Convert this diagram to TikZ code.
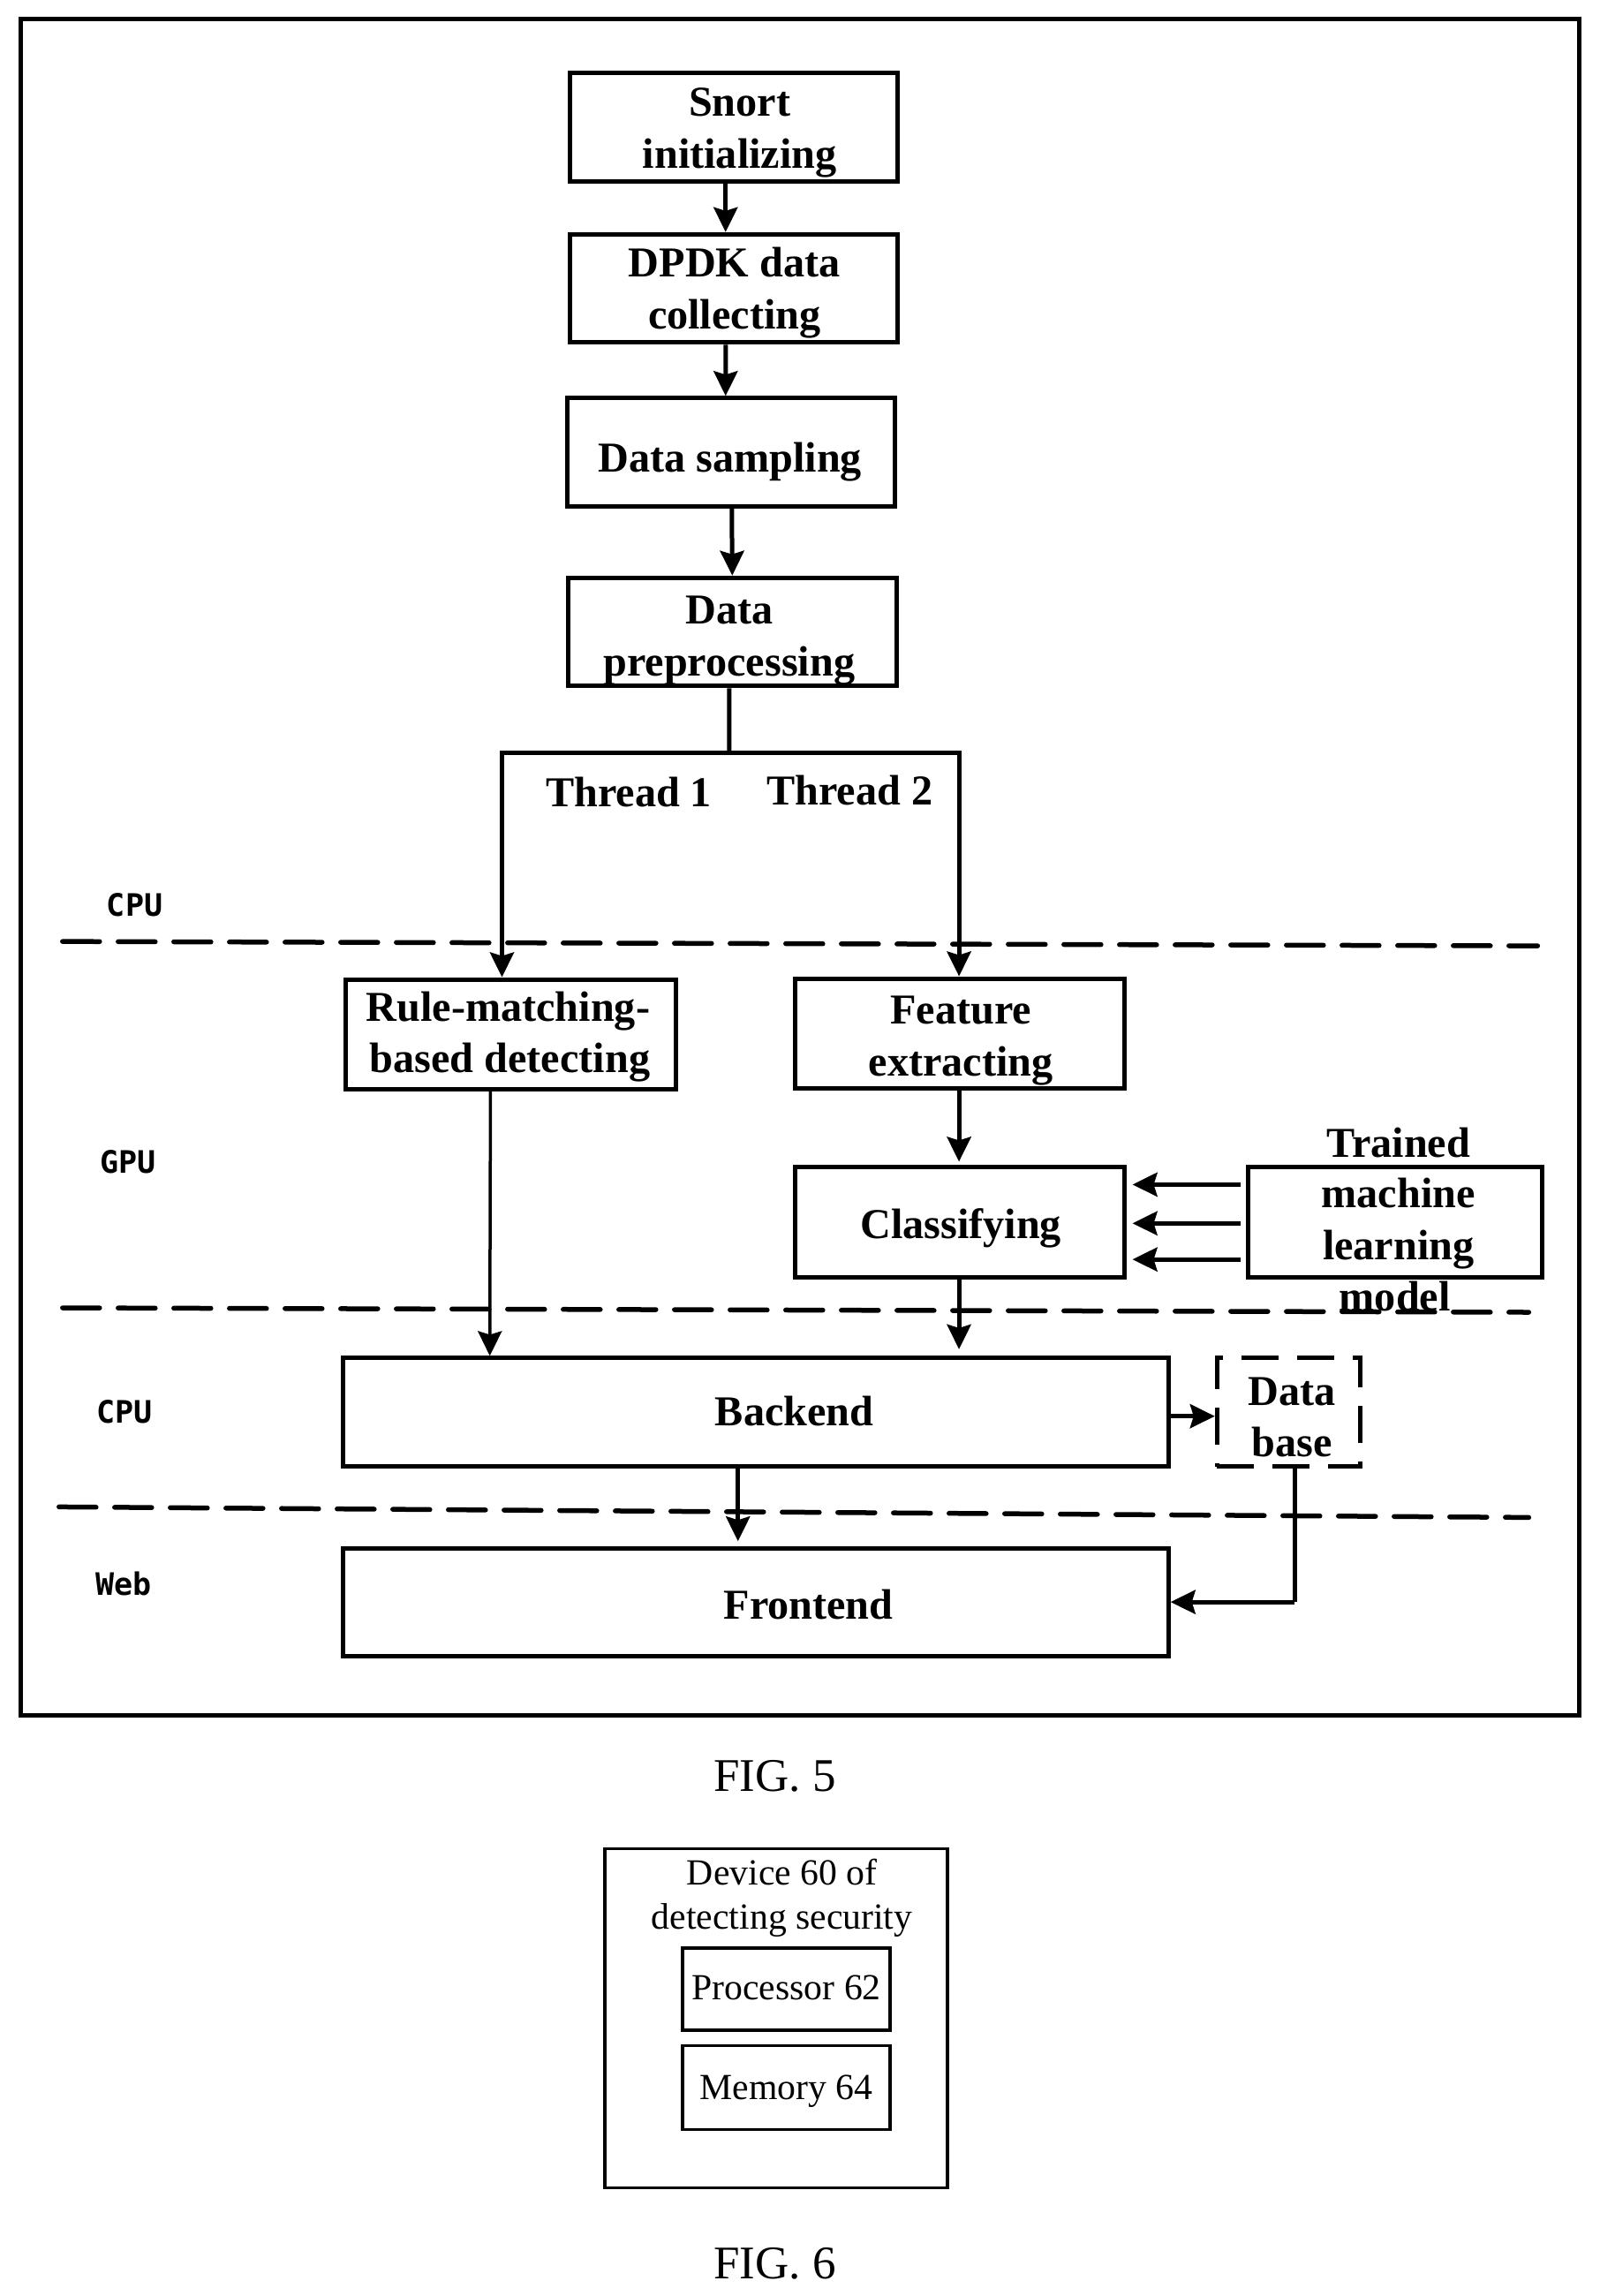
\documentclass[tikz,border=0pt]{standalone}
\usepackage{fontspec}
\setmainfont{Liberation Serif}
\newfontfamily\labelfont{DejaVu Sans Mono}
\usetikzlibrary{arrows.meta}
\tikzset{
  box/.style={draw=black,line width=5pt,inner sep=0pt,fill=none},
  thinbox/.style={draw=black,line width=3.5pt,inner sep=0pt},
  dbox/.style={draw=black,line width=5pt,inner sep=0pt,dash pattern=on 42pt off 21pt},
  bt/.style={inner sep=0pt,text height=32pt,text depth=0pt,font=\bfseries\fontsize{48.2}{58}\selectfont},
  nt/.style={inner sep=0pt,text height=27pt,text depth=0pt,font=\fontsize{41.7}{50}\selectfont},
  figt/.style={inner sep=0pt,text height=33pt,text depth=0pt,font=\fontsize{53}{60}\selectfont},
  lay/.style={inner sep=0pt,text height=25pt,text depth=0pt,font=\labelfont\bfseries\fontsize{35}{40}\selectfont},
  arr/.style={draw=black,line width=5pt,-{Stealth[length=28pt,width=27pt,inset=4pt]}},
  thinarr/.style={arr,line width=3.5pt},
  wire/.style={draw=black,line width=5pt},
  sep/.style={draw=black,line width=5.5pt,dash pattern=on 42pt off 21pt,line cap=round},
}
\begin{document}
\begin{tikzpicture}[x=0.9973pt,y=-0.9973pt]
\useasboundingbox (0,0) rectangle (1816,2607);
\fill[white] (0,0) rectangle (1816,2607);
\node[box,minimum width=1765pt,minimum height=1921pt] (outer) at (908,985) {};
% separators
\coordinate (s1a) at (71,1069); \coordinate (s1b) at (1746,1074);
\coordinate (s2a) at (71,1485); \coordinate (s2b) at (1736,1490);
\coordinate (s3a) at (67,1711); \coordinate (s3b) at (1736,1723);
\draw[sep] (s1a) -- (s1b);
\draw[sep] (s2a) -- (s2b);
\draw[sep] (s3a) -- (s3b);
% boxes
\node[box,minimum width=371pt,minimum height=122.6pt] (snort) at (833,144.5) {};
\node[box,minimum width=371pt,minimum height=122.6pt] (dpdk) at (833,327.5) {};
\node[box,minimum width=371pt,minimum height=122.6pt] (samp) at (830,513.5) {};
\node[box,minimum width=372pt,minimum height=122.6pt] (prep) at (831.5,717.5) {};
\node[box,minimum width=374pt,minimum height=124.6pt] (rule) at (580,1174.5) {};
\node[box,minimum width=373pt,minimum height=124.6pt] (feat) at (1090,1173.5) {};
\node[box,minimum width=373pt,minimum height=124.6pt] (clas) at (1090,1387.5) {};
\node[box,minimum width=333pt,minimum height=124.6pt] (train) at (1584,1387.5) {};
\node[box,minimum width=935pt,minimum height=122.6pt] (back) at (858,1603.5) {};
\node[dbox,minimum width=162.5pt,minimum height=122.6pt] (db) at (1463.5,1603.5) {};
\node[box,minimum width=935pt,minimum height=122.6pt] (front) at (858,1819.5) {};
\node[thinbox,minimum width=388pt,minimum height=384pt] (dev) at (881.5,2291.5) {};
\node[thinbox,minimum width=235pt,minimum height=93pt] (proc) at (893,2258.5) {};
\node[thinbox,minimum width=235pt,minimum height=95pt] (mem) at (893,2370.5) {};
% the Trained box has a thinner middle part on its top edge
\draw[white,line width=2.2pt] ([xshift=20pt,yshift=1.4pt]train.north west) -- ([xshift=-20pt,yshift=1.4pt]train.north east);
% texts
\node[bt] (t1) at (840,116) {Snort};
\node[bt] (t2) at (840,175) {initializing};
\node[bt] (t3) at (834,298) {DPDK data};
\node[bt] (t4) at (834,357) {collecting};
\node[bt] (t5) at (829,520) {Data sampling};
\node[bt] (t6) at (828,692) {Data};
\node[bt] (t7) at (828,752) {preprocessing};
\node[bt] (t8) at (714,900) {Thread 1};
\node[bt] (t9) at (965,898) {Thread 2};
\node[lay] (l1) at (153,1028) {CPU};
\node[lay] (l2) at (145,1320) {GPU};
\node[lay] (l3) at (141,1603) {CPU};
\node[lay] (l4) at (140,1799) {Web};
\node[bt] (t10) at (577,1144) {Rule-matching-};
\node[bt] (t11) at (579,1202) {based detecting};
\node[bt] (t12) at (1091,1147) {Feature};
\node[bt] (t13) at (1091,1206) {extracting};
\node[bt] (t14) at (1091,1390) {Classifying};
\node[bt] (t15) at (1588,1298) {Trained};
\node[bt] (t16) at (1588,1355) {machine};
\node[bt] (t17) at (1588,1414) {learning};
\node[bt] (t18) at (1584,1472) {model};
\node[bt] (t19) at (902,1603) {Backend};
\node[bt] (t20) at (918,1822) {Frontend};
\node[bt] (t21) at (1467,1580) {Data};
\node[bt] (t22) at (1467,1638) {base};
\node[figt] (f5) at (880,2017) {FIG. 5};
\node[figt] (f6) at (880,2571) {FIG. 6};
\node[nt] (d1) at (888,2127) {Device 60 of};
\node[nt] (d2) at (888,2177) {detecting security};
\node[nt] (d3) at (893,2257) {Processor 62};
\node[nt] (d4) at (893,2370) {Memory 64};
% connectors
\draw[arr] ([xshift=-9pt]snort.south) -- ([xshift=-9pt]dpdk.north);
\draw[arr] ([xshift=-9pt]dpdk.south) -- ([xshift=-6pt]samp.north);
\draw[arr] ([xshift=1pt]samp.south) -- ([xshift=0pt]prep.north);
\coordinate (j) at (828,855);
\coordinate (jl) at (570,855);
\coordinate (jr) at (1089,855);
\draw[wire] ([xshift=-3.5pt]prep.south) -- (j);
\draw[wire,line cap=rect] (jl) -- (jr);
\draw[arr] (jl) -- (rule.north -| jl);
\draw[arr] (jr) -- (feat.north -| jr);
\coordinate (jtip) at (1089,1319);
\draw[arr] (feat.south -| jr) -- (jtip);
\coordinate (ctip) at (1089,1532);
\draw[arr] (clas.south -| jr) -- (ctip);
\draw[thinarr] ([xshift=-23pt]rule.south) -- ([xshift=-301pt]back.north);
\coordinate (btip) at (838,1750);
\draw[arr] (back.south -| btip) -- (btip);
\draw[arr] (back.east |- 0,1608) -- (db.west |- 0,1608);
\coordinate (k) at (1470,1819);
\draw[wire] (db.south -| k) -- (k);
\draw[arr] (k) -- (front.east |- k);
\coordinate (a1) at (1409,1345); \coordinate (b1) at (1286,1345);
\coordinate (a2) at (1409,1389); \coordinate (b2) at (1286,1389);
\coordinate (a3) at (1409,1430); \coordinate (b3) at (1286,1430);
\draw[arr] (a1) -- (b1);
\draw[arr] (a2) -- (b2);
\draw[arr] (a3) -- (b3);
\end{tikzpicture}
\end{document}
